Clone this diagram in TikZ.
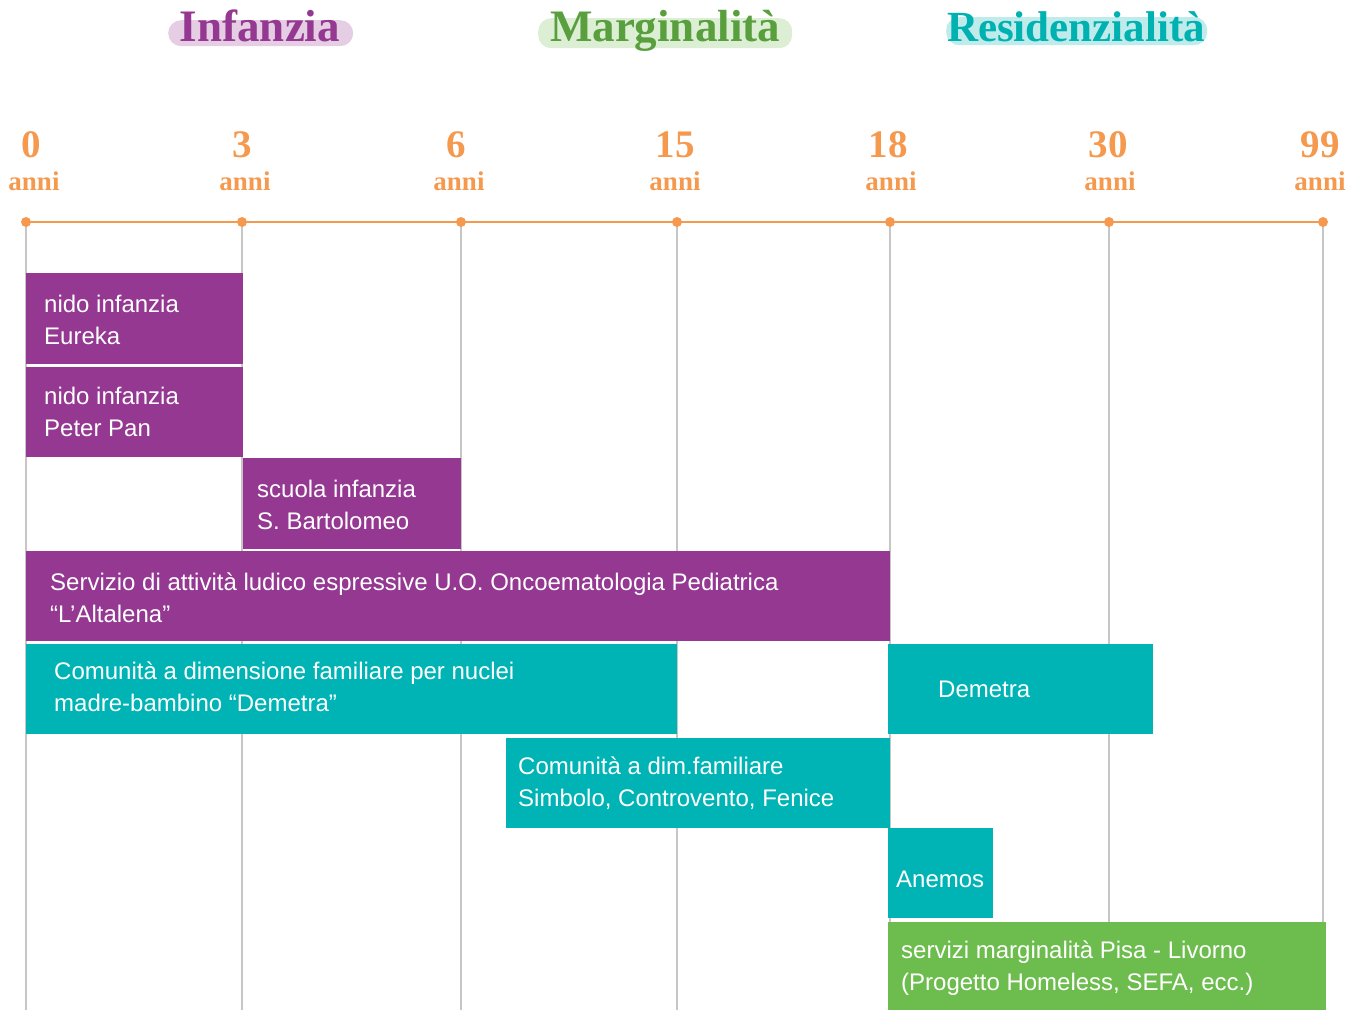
\documentclass[tikz,border=0pt]{standalone}
\usepackage{fontspec}
\setmainfont{Liberation Serif}
\newfontfamily\boxfont{Liberation Sans}
\definecolor{purp}{HTML}{943891}
\definecolor{teal2}{HTML}{00B4B6}
\definecolor{green2}{HTML}{6CBD4D}
\definecolor{orng}{HTML}{F5994F}
\definecolor{gridgray}{HTML}{C6C6C6}
\definecolor{pillpurp}{HTML}{E5CDE4}
\definecolor{pillgreen}{HTML}{DCEFD5}
\definecolor{pillteal}{HTML}{BFECEB}
\definecolor{headgreen}{HTML}{5A9F3E}
\definecolor{headteal}{HTML}{00B1B1}
\begin{document}
\begin{tikzpicture}[x=1pt,y=-1pt,
  gridline/.style={draw=gridgray, line width=1.5pt},
  axisline/.style={draw=orng, line width=2pt},
  tickdot/.style={circle, fill=orng, minimum size=10pt, inner sep=0pt},
  numlbl/.style={text=orng, font=\fontsize{39}{41}\selectfont\bfseries, anchor=base, inner sep=0pt},
  annilbl/.style={text=orng, font=\fontsize{27}{29}\selectfont\bfseries, anchor=base, inner sep=0pt},
  svcbox/.style={rectangle, inner sep=0pt, anchor=north west, draw=none},
  boxtxt/.style={text=white, font=\boxfont\fontsize{24}{27}\selectfont, anchor=base west, inner sep=0pt},
  pill/.style={rectangle, rounded corners=13pt, inner sep=0pt, anchor=north west},
  headtxt/.style={font=\fontsize{45}{47}\selectfont\bfseries, anchor=base, inner sep=0pt}
]
\useasboundingbox (0,0) rectangle (1358,1010);

% headings
\node[pill, fill=pillpurp, minimum width=185pt, minimum height=26pt] (p1) at (168,20) {};
\node[pill, fill=pillgreen, minimum width=254pt, minimum height=30pt] (p2) at (538,18) {};
\node[pill, fill=pillteal, minimum width=261pt, minimum height=28pt] (p3) at (946,17) {};
\node[headtxt, text=purp] (h1) at (260,41) {Infanzia};
\node[headtxt, text=headgreen] (h2) at (665,41) {Marginalità};
\node[headtxt, text=headteal, font=\fontsize{43}{45}\selectfont\bfseries] (h3) at (1076,41) {Residenzialità};

% tick coordinates
\coordinate (c0) at (26,222);
\coordinate (c3) at (242,222);
\coordinate (c6) at (461,222);
\coordinate (c15) at (677,222);
\coordinate (c18) at (890,222);
\coordinate (c30) at (1109,222);
\coordinate (c99) at (1323,222);
\foreach \n/\x in {0/26,3/242,6/461,15/677,18/890,30/1109,99/1323}{
  \coordinate (g\n) at (\x,1010);
  \draw[gridline] (c\n) -- (g\n);
}

% labels
\node[numlbl] (n0) at (31,157) {0};
\node[numlbl] (n3) at (242,157) {3};
\node[numlbl] (n6) at (456,157) {6};
\node[numlbl] (n15) at (675,157) {15};
\node[numlbl] (n18) at (888,157) {18};
\node[numlbl] (n30) at (1108,157) {30};
\node[numlbl] (n99) at (1320,157) {99};
\node[annilbl] (a0) at (34,190) {anni};
\node[annilbl] (a3) at (245,190) {anni};
\node[annilbl] (a6) at (459,190) {anni};
\node[annilbl] (a15) at (675,190) {anni};
\node[annilbl] (a18) at (891,190) {anni};
\node[annilbl] (a30) at (1110,190) {anni};
\node[annilbl] (a99) at (1320,190) {anni};

% boxes
\node[svcbox, fill=purp, minimum width=217pt, minimum height=91pt] (b1) at (26,273) {};
\node[boxtxt] (b1a) at (44,312) {nido infanzia};
\node[boxtxt] (b1b) at (44,344) {Eureka};

\node[svcbox, fill=purp, minimum width=217pt, minimum height=90pt] (b2) at (26,367) {};
\node[boxtxt] (b2a) at (44,404) {nido infanzia};
\node[boxtxt] (b2b) at (44,436) {Peter Pan};

\node[svcbox, fill=purp, minimum width=218pt, minimum height=91pt] (b3) at (243,458) {};
\node[boxtxt] (b3a) at (257,497) {scuola infanzia};
\node[boxtxt] (b3b) at (257,529) {S. Bartolomeo};

\node[svcbox, fill=purp, minimum width=864pt, minimum height=90pt] (b4) at (26,551) {};
\node[boxtxt] (b4a) at (50,590) {Servizio di attività ludico espressive U.O. Oncoematologia Pediatrica};
\node[boxtxt] (b4b) at (50,622) {“L’Altalena”};

\node[svcbox, fill=teal2, minimum width=651pt, minimum height=90pt] (b5) at (26,644) {};
\node[boxtxt] (b5a) at (54,679) {Comunità a dimensione familiare per nuclei};
\node[boxtxt] (b5b) at (54,711) {madre-bambino “Demetra”};

\node[svcbox, fill=teal2, minimum width=265pt, minimum height=90pt] (b6) at (888,644) {};
\node[boxtxt] (b6a) at (938,697) {Demetra};

\node[svcbox, fill=teal2, minimum width=384pt, minimum height=90pt] (b7) at (506,738) {};
\node[boxtxt] (b7a) at (518,774) {Comunità a dim.familiare};
\node[boxtxt] (b7b) at (518,806) {Simbolo, Controvento, Fenice};

\node[svcbox, fill=teal2, minimum width=105pt, minimum height=90pt] (b8) at (888,828) {};
\node[boxtxt] (b8a) at (896,887) {Anemos};

\node[svcbox, fill=green2, minimum width=438pt, minimum height=88pt] (b9) at (888,922) {};
\node[boxtxt] (b9a) at (901,958) {servizi marginalità Pisa - Livorno};
\node[boxtxt] (b9b) at (901,990) {(Progetto Homeless, SEFA, ecc.)};

% axis
\draw[axisline] (c0) -- (c99);
\foreach \n in {0,3,6,15,18,30,99}{
  \node[tickdot] (t\n) at (c\n) {};
}
\end{tikzpicture}
\end{document}
